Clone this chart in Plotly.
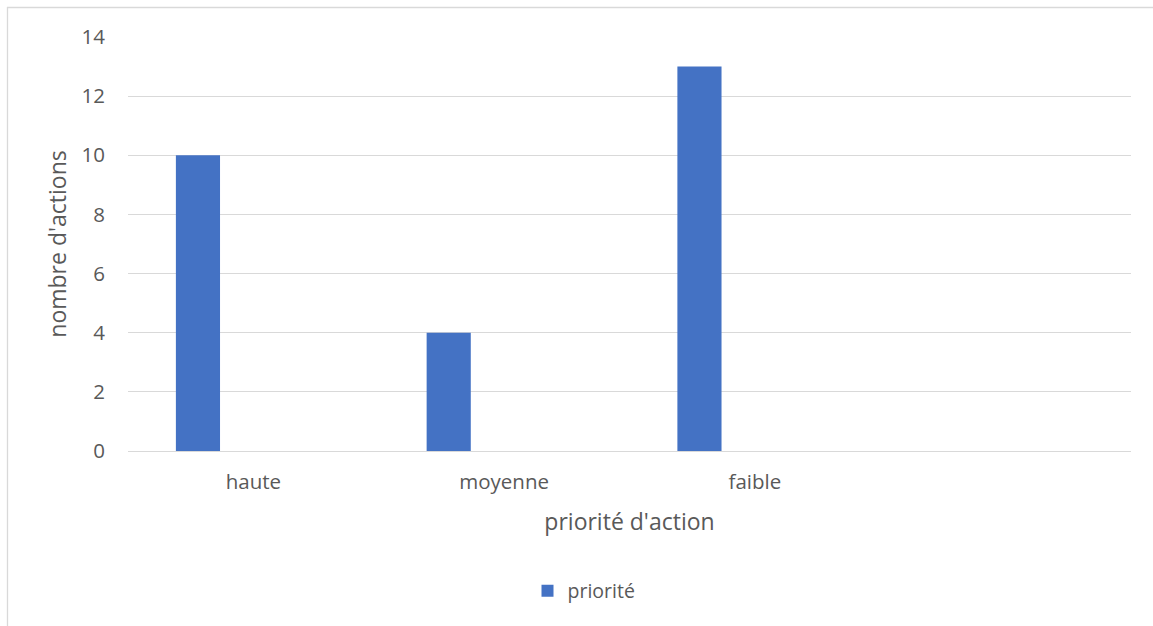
import plotly.graph_objects as go

categories = ["haute", "moyenne", "faible", " "]
values = [10, 4, 13, None]
series_name = "priorité"
y_ticks = [0, 2, 4, 6, 8, 10, 12, 14]

W, H = 1153, 626
L, R, T, B = 128, 22, 37, 175
pw, ph = W - L - R, H - T - B

def px_x(p):
    return (p - L) / pw

def px_y(p):
    return (H - B - p) / ph

FONT = "Open Sans"
TXT = "#595959"
GRID = "#D9D9D9"

fig = go.Figure()
fig.add_trace(go.Bar(
    x=categories, y=values, name=series_name,
    marker=dict(color="#4472C4", line=dict(width=0)),
    width=0.176, offset=-0.309,
    showlegend=True,
))

fig.update_layout(
    width=W, height=H,
    margin=dict(l=L, r=R, t=T, b=B, pad=0),
    paper_bgcolor="white", plot_bgcolor="white",
    font=dict(family=FONT, color=TXT, size=20),
    showlegend=True,
    legend=dict(
        orientation="h", x=px_x(584), xanchor="center",
        y=px_y(591), yanchor="middle",
        font=dict(size=19.5, color=TXT), itemwidth=30,
        bgcolor="rgba(0,0,0,0)",
    ),
    xaxis=dict(
        type="category", categoryorder="array", categoryarray=categories,
        range=[-0.5, 3.5], showgrid=False, showline=False, zeroline=False,
        ticks="", ticklabelstandoff=16,
        tickfont=dict(size=20.5, color=TXT),
        title=dict(text="priorité d'action", font=dict(size=23, color=TXT), standoff=20),
    ),
    yaxis=dict(
        range=[0, 14], tickvals=y_ticks, showgrid=True, gridcolor=GRID, gridwidth=1.3,
        zeroline=True, zerolinecolor=GRID, zerolinewidth=1.3, showline=False,
        ticks="", ticklabelstandoff=22,
        tickfont=dict(size=20.5, color=TXT),
        title=dict(text="nombre d'actions", font=dict(size=23, color=TXT), standoff=8),
    ),
    shapes=[
        dict(type="line", xref="paper", yref="paper",
             x0=px_x(7), x1=px_x(1160), y0=px_y(7.5), y1=px_y(7.5),
             line=dict(color=GRID, width=1.3)),
        dict(type="line", xref="paper", yref="paper",
             x0=px_x(7.5), x1=px_x(7.5), y0=px_y(7), y1=px_y(640),
             line=dict(color=GRID, width=1.3)),
    ],
)

fig.write_html("out.html")
